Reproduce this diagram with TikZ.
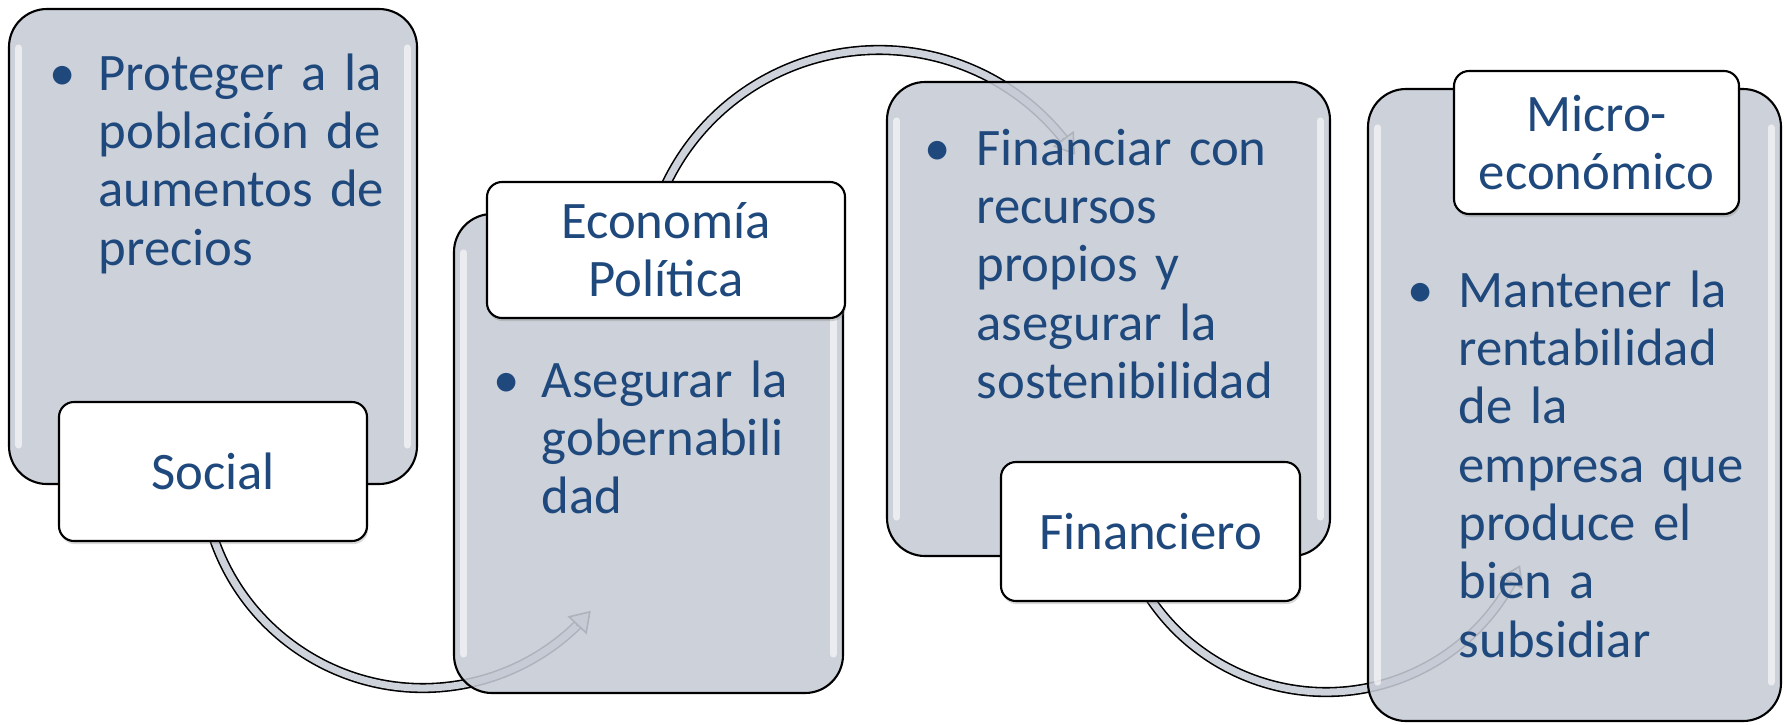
\documentclass[tikz,border=0pt]{standalone}
\usepackage{fontspec}
\setmainfont{Carlito}
\usetikzlibrary{arrows.meta,shadows}
\definecolor{textblue}{HTML}{1F497D}
\definecolor{panelgray}{RGB}{198,203,213}
\definecolor{flowgray}{RGB}{206,210,219}
\begin{document}
\begin{tikzpicture}[
	panel/.style={draw=black, line width=0.6pt, rounded corners=3.8mm, fill=panelgray, fill opacity=0.88, inner sep=0},
	tag/.style={draw=black, line width=0.6pt, rounded corners=1.5mm, fill=white, inner sep=0, align=center, text=textblue, font=\fontsize{15}{16.6}\selectfont, drop shadow={shadow xshift=0.3pt, shadow yshift=-0.9pt, opacity=0.3}},
	body/.style={inner sep=0, text=textblue, font=\fontsize{15}{16.6}\selectfont, text width=4cm, anchor=base west},
	dot/.style={inner sep=0, text=textblue, font=\fontsize{15}{16.6}\selectfont, anchor=base},
	flow/.style={draw=black, line width=0.45pt, double=flowgray, double distance=2pt},
	flowhead/.style={draw=black, line width=0.45pt, -{Triangle[length=2mm, width=2.6mm, fill=flowgray]}},
	gloss/.style={draw=white, line width=2pt, opacity=0.6, line cap=round}
]
	\useasboundingbox (0,0) rectangle (17.87,-7.24);
	
	\coordinate (c1) at (4.23,-4.67);
	\coordinate (c2) at (8.79,-2.86);
	\coordinate (c3) at (13.26,-4.80);
	
	\draw[flow] ([shift={(190:2.21)}]c1) arc[start angle=190, end angle=314.5, radius=2.21];
	\draw[flowhead] ([shift={(314:2.21)}]c1) -- ([shift={(319.4:2.21)}]c1);
	\draw[flow] ([shift={(160:2.36)}]c2) arc[start angle=160, end angle=38.3, radius=2.36];
	\draw[flowhead] ([shift={(38.8:2.36)}]c2) -- ([shift={(33.8:2.36)}]c2);
	\draw[flow] ([shift={(205:2.12)}]c3) arc[start angle=205, end angle=331.3, radius=2.12];
	\draw[flowhead] ([shift={(330.9:2.12)}]c3) -- ([shift={(336.3:2.12)}]c3);
	
	\node[panel, minimum width=4.08cm, minimum height=4.75cm] (p1) at (2.13,-2.465) {};
	\node[panel, minimum width=3.89cm, minimum height=4.79cm] (p2) at (6.485,-4.535) {};
	\node[panel, minimum width=4.43cm, minimum height=4.74cm] (p3) at (11.085,-3.19) {};
	\node[panel, minimum width=4.13cm, minimum height=6.32cm] (p4) at (15.745,-4.05) {};
	
	\foreach \p in {p1,p2,p3,p4} {
		\draw[gloss] ([xshift=1.1mm, yshift=-4mm]\p.north west) -- ([xshift=1.1mm, yshift=4mm]\p.south west);
		\draw[gloss] ([xshift=-1.1mm, yshift=-4mm]\p.north east) -- ([xshift=-1.1mm, yshift=4mm]\p.south east);
	}
	
	\node[tag, minimum width=3.08cm, minimum height=1.39cm] (social) at (2.13,-4.715) {Social};
	\node[tag, minimum width=3.58cm, minimum height=1.36cm] (politica) at (6.66,-2.50) {Economía\\Política};
	\node[tag, minimum width=2.99cm, minimum height=1.39cm] (financiero) at (11.505,-5.315) {Financiero};
	\node[tag, minimum width=2.85cm, minimum height=1.43cm] (micro) at (15.965,-1.425) {Micro-\\económico};
	
	\node[dot] (b1) at (0.63,-0.90) {•};
	\node[body] (t1) at (0.98,-0.90) {Proteger a la\\población de\\aumentos de\\precios};
	\node[dot] (b2) at (5.07,-3.97) {•};
	\node[body] (t2) at (5.41,-3.97) {Asegurar la\\gobernabili\\dad};
	\node[dot] (b3) at (9.38,-1.65) {•};
	\node[body] (t3) at (9.76,-1.65) {Financiar con\\recursos\\propios y\\asegurar la\\sostenibilidad};
	\node[dot] (b4) at (14.21,-3.07) {•};
	\node[body] (t4) at (14.58,-3.07) {Mantener la\\rentabilidad\\de la\\empresa que\\produce el\\bien a\\subsidiar};
\end{tikzpicture}
\end{document}
